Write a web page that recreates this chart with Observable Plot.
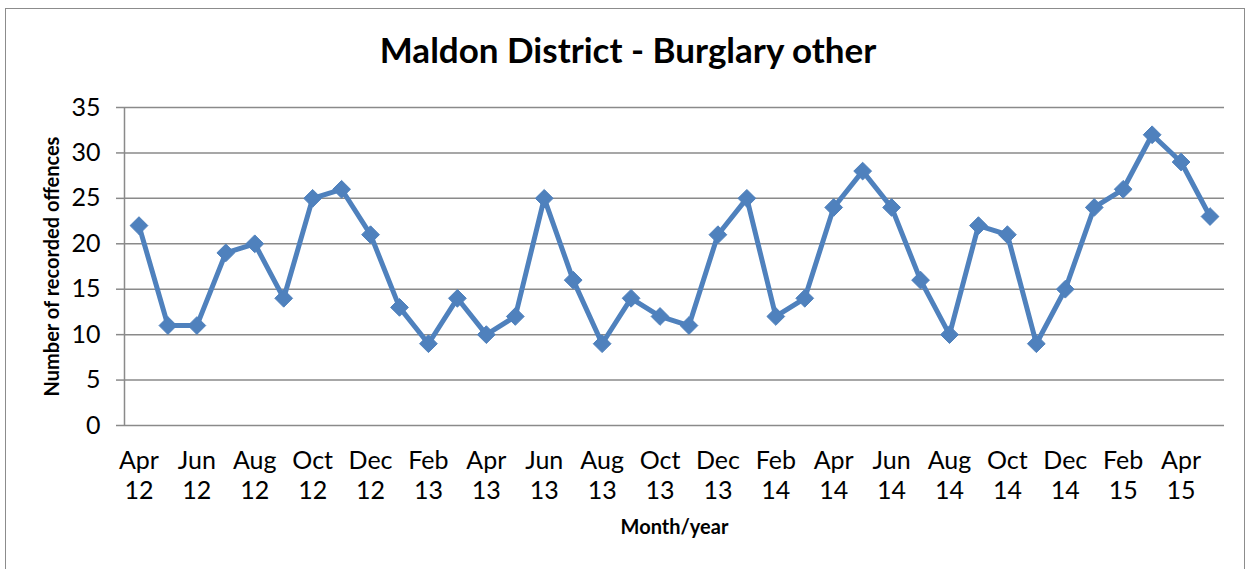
<!DOCTYPE html>
<html>
<head>
<meta charset="utf-8">
<script src="https://cdn.jsdelivr.net/npm/d3@7"></script>
<script src="https://cdn.jsdelivr.net/npm/@observablehq/plot@0.6"></script>
<style>
  html, body { margin: 0; padding: 0; background: #fff; }
  #wrap { position: relative; width: 1251px; height: 569px; overflow: hidden; font-family: Lato, "Open Sans", sans-serif; }
  #border { position: absolute; left: 5px; top: 8px; width: 1240px; height: 600px; border: 1.5px solid #8c8c8c; box-sizing: border-box; }
  #title { position: absolute; left: 5px; width: 1246px; top: 32px; line-height: 1; text-align: center; font-weight: bold; font-size: 35px; color: #000; }
  #chart { position: absolute; left: 0; top: 0; }
</style>
</head>
<body>
<div id="wrap">
  <div id="border"></div>
  <div id="title">Maldon District - Burglary other</div>
  <div id="chart"></div>
</div>
<script>
const months = ["Apr 12","May 12","Jun 12","Jul 12","Aug 12","Sep 12","Oct 12","Nov 12","Dec 12",
  "Jan 13","Feb 13","Mar 13","Apr 13","May 13","Jun 13","Jul 13","Aug 13","Sep 13","Oct 13","Nov 13","Dec 13",
  "Jan 14","Feb 14","Mar 14","Apr 14","May 14","Jun 14","Jul 14","Aug 14","Sep 14","Oct 14","Nov 14","Dec 14",
  "Jan 15","Feb 15","Mar 15","Apr 15","May 15"];
const offences = [22,11,11,19,20,14,25,26,21,13,9,14,10,12,25,16,9,14,12,11,21,25,12,14,24,28,24,16,10,22,21,9,15,24,26,32,29,23];
const tickMonths = months.filter((m, i) => i % 2 === 0);
const yTicks = [0,5,10,15,20,25,30,35];

const data = months.map((m, i) => ({month: m, value: offences[i]}));
const blue = "#4F81BD";
const grid = "#8a8a8a";
const W = 1251, ML = 124, MR = 27;
const halfStep = (W - ML - MR) / months.length / 2;

const chart = Plot.plot({
  width: W,
  height: 569,
  marginLeft: ML,
  marginRight: MR,
  marginTop: 107,
  marginBottom: 144,
  style: {background: "transparent", fontFamily: "Lato, 'Open Sans', sans-serif", overflow: "visible"},
  x: {type: "point", domain: months, padding: 0.5},
  y: {domain: [0, 35]},
  marks: [
    Plot.gridY(yTicks, {stroke: grid, strokeOpacity: 1, strokeWidth: 1.5}),
    Plot.ruleX([months[0]], {dx: -halfStep, stroke: grid, strokeWidth: 1.5}),
    Plot.axisY(yTicks, {tickSize: 8, tickPadding: 16, fontSize: 25, stroke: grid, strokeWidth: 1.5, fill: "#000",
      label: "Number of recorded offences", labelAnchor: "center", labelOffset: 80, labelArrow: "none"}),
    Plot.axisX(tickMonths, {tickSize: 0, tickPadding: 22, fontSize: 25, fill: "#000", lineHeight: 1.2,
      tickFormat: d => d.replace(" ", "\n"), label: null}),
    Plot.text(["Month/year"], {frameAnchor: "bottom", dy: 108, fontSize: 20, fontWeight: "bold", fill: "#000"}),
    Plot.line(data, {x: "month", y: "value", stroke: blue, strokeWidth: 5, strokeLinejoin: "round"}),
    Plot.dot(data, {x: "month", y: "value", symbol: "diamond2", r: 8, fill: blue, stroke: blue, strokeWidth: 1})
  ]
});
document.getElementById("chart").appendChild(chart);
chart.querySelectorAll("g[aria-label='y-axis label'] text").forEach(t => { t.setAttribute("font-weight", "bold"); t.setAttribute("font-size", "20"); });
</script>
</body>
</html>
